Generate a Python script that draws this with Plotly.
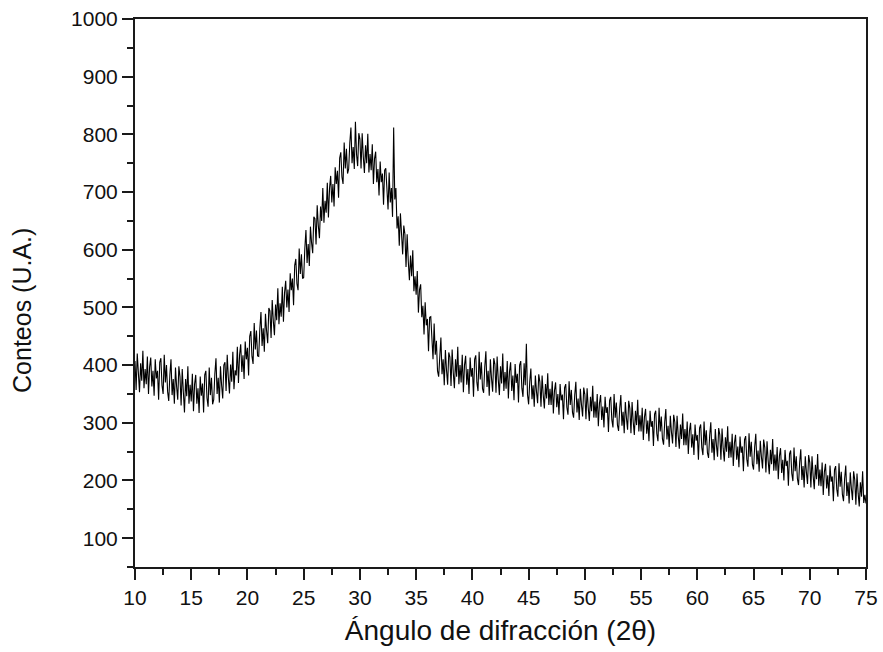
import plotly.graph_objects as go

# XRD scan: intensity every 0.1 degree (2theta) from 10.0 to 75.0
inicio_2theta = 10.0
paso_2theta = 0.1
conteos = [
    407, 357, 420, 380, 353, 403, 373, 425, 360, 393,   # 10
    367, 415, 350, 397, 413, 363, 390, 347, 410, 377,   # 11
    390, 340, 405, 412, 365, 350, 418, 370, 400, 354,   # 12
    338, 383, 410, 348, 376, 333, 396, 363, 340, 398,   # 13
    380, 330, 393, 353, 318, 376, 346, 398, 333, 366,   # 14
    337, 385, 320, 367, 383, 333, 360, 317, 380, 347,   # 15
    368, 318, 383, 390, 343, 328, 396, 348, 378, 332,   # 16
    340, 385, 412, 350, 378, 335, 398, 365, 342, 400,   # 17
    405, 355, 418, 378, 351, 401, 371, 423, 358, 391,   # 18
    382, 432, 369, 418, 436, 388, 417, 376, 441, 410,   # 19
    430, 382, 450, 459, 415, 402, 473, 427, 460, 416,   # 20
    415, 463, 492, 433, 464, 423, 489, 459, 438, 499,   # 21
    494, 447, 513, 476, 452, 505, 478, 533, 471, 507,   # 22
    484, 536, 475, 526, 546, 500, 531, 492, 559, 530,   # 23
    550, 504, 573, 584, 541, 530, 602, 558, 592, 550,   # 24
    552, 602, 634, 577, 610, 572, 640, 612, 594, 657,   # 25
    654, 609, 677, 642, 620, 675, 650, 707, 647, 685,   # 26
    664, 716, 656, 707, 728, 682, 714, 675, 743, 714,   # 27
    737, 690, 759, 769, 726, 714, 786, 741, 775, 732,   # 28
    740, 785, 812, 750, 778, 740, 822, 765, 745, 802,   # 29
    792, 741, 802, 761, 733, 781, 750, 801, 734, 766,   # 30
    738, 783, 714, 758, 770, 717, 740, 694, 753, 717,   # 31
    732, 678, 738, 741, 690, 670, 734, 682, 707, 657,   # 32
    812, 687, 707, 637, 658, 607, 663, 622, 592, 642,   # 33
    627, 570, 627, 580, 547, 590, 554, 599, 528, 554,   # 34
    522, 563, 491, 531, 540, 483, 503, 453, 509, 469,   # 35
    480, 424, 483, 484, 431, 410, 472, 418, 442, 390,   # 36
    380, 423, 448, 384, 410, 365, 426, 391, 366, 422,   # 37
    414, 364, 427, 387, 360, 410, 380, 432, 367, 400,   # 38
    370, 418, 353, 400, 416, 366, 393, 350, 413, 380,   # 39
    395, 345, 410, 417, 370, 355, 423, 375, 405, 359,   # 40
    352, 397, 424, 362, 390, 347, 410, 377, 354, 412,   # 41
    402, 352, 415, 375, 348, 398, 368, 420, 355, 388,   # 42
    359, 407, 342, 389, 405, 355, 382, 339, 402, 369,   # 43
    385, 335, 400, 407, 360, 345, 403, 365, 437, 349,   # 44
    332, 371, 394, 341, 365, 328, 382, 354, 334, 384,   # 45
    371, 328, 382, 348, 325, 367, 342, 386, 331, 359,   # 46
    331, 372, 316, 356, 370, 327, 350, 314, 367, 339,   # 47
    349, 306, 361, 367, 327, 314, 372, 331, 357, 318,   # 48
    309, 348, 371, 318, 342, 305, 359, 331, 311, 361,   # 49
    349, 306, 360, 326, 303, 345, 320, 364, 309, 337,   # 50
    309, 350, 294, 334, 348, 305, 328, 292, 345, 317,   # 51
    327, 284, 339, 345, 305, 292, 350, 309, 335, 296,   # 52
    286, 325, 348, 295, 319, 282, 336, 308, 288, 338,   # 53
    325, 282, 336, 302, 279, 321, 296, 340, 285, 313,   # 54
    285, 326, 270, 310, 324, 281, 304, 268, 321, 293,   # 55
    303, 260, 315, 321, 281, 268, 326, 285, 311, 272,   # 56
    262, 301, 324, 271, 295, 258, 312, 284, 264, 314,   # 57
    301, 258, 312, 278, 255, 297, 272, 316, 261, 289,   # 58
    261, 302, 246, 286, 300, 257, 280, 244, 297, 269,   # 59
    279, 236, 291, 297, 257, 244, 302, 261, 287, 248,   # 60
    239, 278, 301, 248, 272, 235, 289, 261, 241, 291,   # 61
    279, 236, 290, 256, 233, 275, 250, 294, 239, 267,   # 62
    240, 281, 225, 265, 279, 236, 259, 223, 276, 248,   # 63
    259, 216, 271, 277, 237, 224, 282, 241, 267, 228,   # 64
    219, 258, 281, 228, 252, 215, 269, 241, 221, 271,   # 65
    257, 214, 268, 234, 211, 253, 228, 272, 217, 245,   # 66
    217, 258, 202, 242, 256, 213, 236, 200, 253, 225,   # 67
    234, 191, 246, 252, 212, 199, 257, 216, 242, 203,   # 68
    192, 231, 254, 201, 225, 188, 242, 214, 194, 244,   # 69
    231, 188, 242, 208, 185, 227, 202, 246, 191, 219,   # 70
    190, 231, 175, 215, 229, 186, 209, 173, 226, 198,   # 71
    207, 164, 219, 225, 185, 172, 230, 189, 215, 176,   # 72
    164, 203, 226, 173, 197, 160, 214, 186, 166, 216,   # 73
    201, 158, 212, 178, 155, 197, 172, 216, 161, 175,   # 74
    160,                                                 # 75
]
angulo = [round(inicio_2theta + paso_2theta * i, 1) for i in range(len(conteos))]

x_ticks = [10, 15, 20, 25, 30, 35, 40, 45, 50, 55, 60, 65, 70, 75]
y_ticks = [100, 200, 300, 400, 500, 600, 700, 800, 900, 1000]

fig = go.Figure()
fig.add_trace(go.Scatter(
    x=angulo, y=conteos, mode="lines",
    line=dict(color="#000000", width=1.1),
    showlegend=False,
))

FONT = "Liberation Sans, Arial, sans-serif"
axis_common = dict(
    showline=True, linecolor="#1a1a1a", linewidth=2, mirror=True,
    ticks="outside", tickcolor="#1a1a1a", tickwidth=2, ticklen=11,
    showgrid=False, zeroline=False, automargin=False,
    tickfont=dict(family=FONT, size=21, color="#111111"),
)

fig.update_layout(
    width=883, height=652,
    margin=dict(l=135, r=17, t=19, b=85, autoexpand=False),
    paper_bgcolor="white", plot_bgcolor="white",
    font=dict(family=FONT, color="#111111"),
    xaxis=dict(
        range=[10, 75], tickvals=x_ticks,
        minor=dict(dtick=2.5, tick0=10, ticks="outside", ticklen=6, tickwidth=2, tickcolor="#1a1a1a"),
        title=dict(text="Ángulo de difracción (2θ)", font=dict(size=28), standoff=12),
        **axis_common,
    ),
    yaxis=dict(
        range=[50, 1000], tickvals=y_ticks,
        minor=dict(dtick=50, tick0=0, ticks="outside", ticklen=6, tickwidth=2, tickcolor="#1a1a1a"),
        **axis_common,
    ),
    annotations=[dict(
        text="Conteos (U.A.)", textangle=-90,
        xref="paper", yref="paper", x=-0.1546, y=0.469,
        xanchor="center", yanchor="middle", showarrow=False,
        font=dict(family=FONT, size=25, color="#111111"),
    )],
)

fig.write_html("out.html")
